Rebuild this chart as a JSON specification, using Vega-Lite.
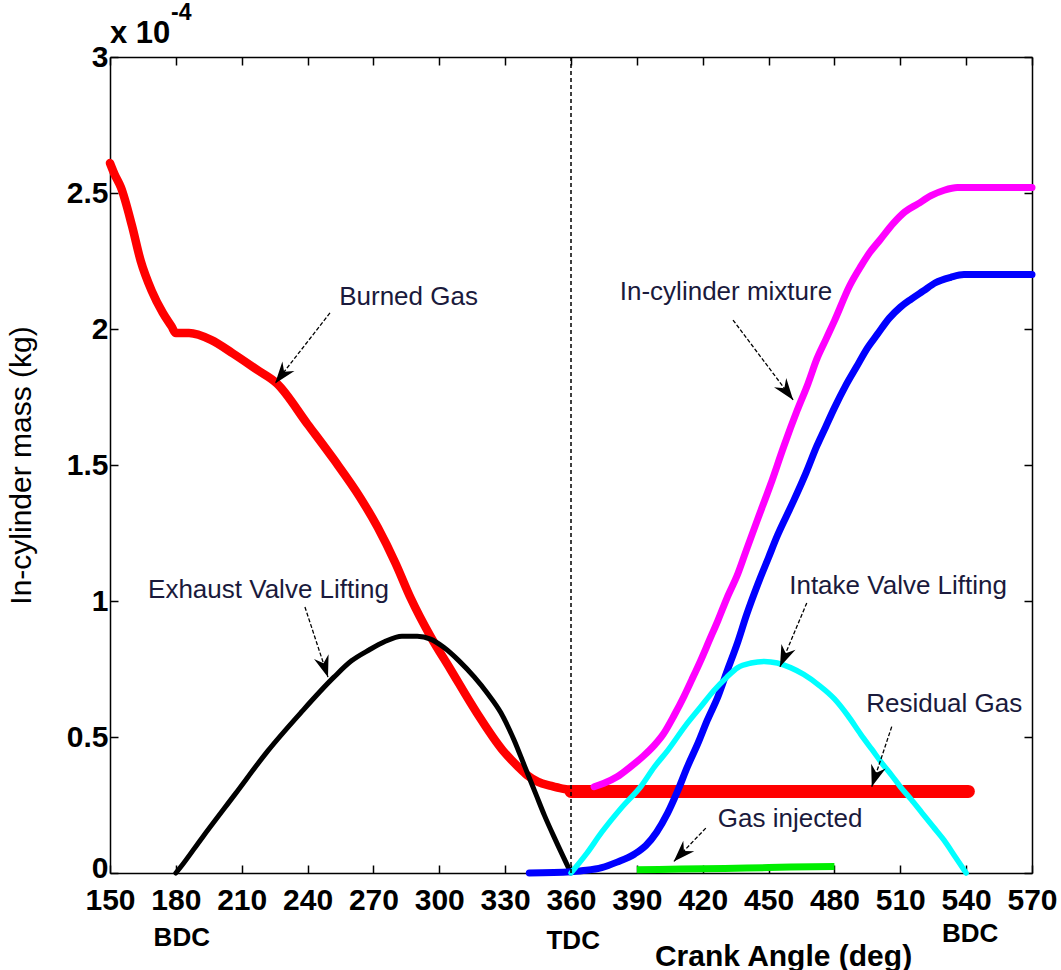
{
  "$schema": "https://vega.github.io/schema/vega-lite/v6.json",
  "width": 922,
  "height": 816,
  "autosize": {"type": "none"},
  "padding": {"left": 110, "top": 57, "right": 29, "bottom": 97},
  "background": "white",
  "config": {
    "view": {"stroke": null},
    "axis": {"grid": false, "domainColor": "black", "tickColor": "black", "domainWidth": 1.5, "tickWidth": 1.5, "tickSize": -8, "labelColor": "black", "titleColor": "black"}
  },
  "resolve": {"axis": {"x": "independent", "y": "independent"}},
  "datasets": {
    "curves": [
      {"series": "Burned Gas", "angle": 150, "mass": 2.61},
      {"series": "Burned Gas", "angle": 152, "mass": 2.57},
      {"series": "Burned Gas", "angle": 155, "mass": 2.52},
      {"series": "Burned Gas", "angle": 160, "mass": 2.38},
      {"series": "Burned Gas", "angle": 164, "mass": 2.25},
      {"series": "Burned Gas", "angle": 169, "mass": 2.14},
      {"series": "Burned Gas", "angle": 174, "mass": 2.06},
      {"series": "Burned Gas", "angle": 178, "mass": 2.01},
      {"series": "Burned Gas", "angle": 180, "mass": 1.985},
      {"series": "Burned Gas", "angle": 186, "mass": 1.985},
      {"series": "Burned Gas", "angle": 196, "mass": 1.96},
      {"series": "Burned Gas", "angle": 206, "mass": 1.91},
      {"series": "Burned Gas", "angle": 217, "mass": 1.85},
      {"series": "Burned Gas", "angle": 226, "mass": 1.8},
      {"series": "Burned Gas", "angle": 240, "mass": 1.65},
      {"series": "Burned Gas", "angle": 252, "mass": 1.52},
      {"series": "Burned Gas", "angle": 264, "mass": 1.38},
      {"series": "Burned Gas", "angle": 272, "mass": 1.27},
      {"series": "Burned Gas", "angle": 280, "mass": 1.14},
      {"series": "Burned Gas", "angle": 287, "mass": 1.01},
      {"series": "Burned Gas", "angle": 296, "mass": 0.87},
      {"series": "Burned Gas", "angle": 305, "mass": 0.75},
      {"series": "Burned Gas", "angle": 317, "mass": 0.59},
      {"series": "Burned Gas", "angle": 329, "mass": 0.45},
      {"series": "Burned Gas", "angle": 336, "mass": 0.39},
      {"series": "Burned Gas", "angle": 340, "mass": 0.36},
      {"series": "Burned Gas", "angle": 345, "mass": 0.335},
      {"series": "Burned Gas", "angle": 351, "mass": 0.32},
      {"series": "Burned Gas", "angle": 356, "mass": 0.31},
      {"series": "Burned Gas", "angle": 360, "mass": 0.305},
      {"series": "Residual Gas", "angle": 360, "mass": 0.3},
      {"series": "Residual Gas", "angle": 541, "mass": 0.3},
      {"series": "Exhaust Valve Lifting", "angle": 180, "mass": 0},
      {"series": "Exhaust Valve Lifting", "angle": 182, "mass": 0.02},
      {"series": "Exhaust Valve Lifting", "angle": 192, "mass": 0.13},
      {"series": "Exhaust Valve Lifting", "angle": 207, "mass": 0.29},
      {"series": "Exhaust Valve Lifting", "angle": 222, "mass": 0.45},
      {"series": "Exhaust Valve Lifting", "angle": 237, "mass": 0.59},
      {"series": "Exhaust Valve Lifting", "angle": 252, "mass": 0.72},
      {"series": "Exhaust Valve Lifting", "angle": 260, "mass": 0.78},
      {"series": "Exhaust Valve Lifting", "angle": 268, "mass": 0.82},
      {"series": "Exhaust Valve Lifting", "angle": 275, "mass": 0.85},
      {"series": "Exhaust Valve Lifting", "angle": 283, "mass": 0.87},
      {"series": "Exhaust Valve Lifting", "angle": 290, "mass": 0.87},
      {"series": "Exhaust Valve Lifting", "angle": 296, "mass": 0.86},
      {"series": "Exhaust Valve Lifting", "angle": 302, "mass": 0.83},
      {"series": "Exhaust Valve Lifting", "angle": 309, "mass": 0.78},
      {"series": "Exhaust Valve Lifting", "angle": 316, "mass": 0.72},
      {"series": "Exhaust Valve Lifting", "angle": 322, "mass": 0.66},
      {"series": "Exhaust Valve Lifting", "angle": 328, "mass": 0.59},
      {"series": "Exhaust Valve Lifting", "angle": 334, "mass": 0.49},
      {"series": "Exhaust Valve Lifting", "angle": 339, "mass": 0.39},
      {"series": "Exhaust Valve Lifting", "angle": 344, "mass": 0.29},
      {"series": "Exhaust Valve Lifting", "angle": 348, "mass": 0.21},
      {"series": "Exhaust Valve Lifting", "angle": 353, "mass": 0.12},
      {"series": "Exhaust Valve Lifting", "angle": 360, "mass": 0},
      {"series": "In-cylinder mixture", "angle": 370.5, "mass": 0.317},
      {"series": "In-cylinder mixture", "angle": 375, "mass": 0.33},
      {"series": "In-cylinder mixture", "angle": 381, "mass": 0.354},
      {"series": "In-cylinder mixture", "angle": 387, "mass": 0.39},
      {"series": "In-cylinder mixture", "angle": 393, "mass": 0.43},
      {"series": "In-cylinder mixture", "angle": 398, "mass": 0.47},
      {"series": "In-cylinder mixture", "angle": 402, "mass": 0.51},
      {"series": "In-cylinder mixture", "angle": 407, "mass": 0.58},
      {"series": "In-cylinder mixture", "angle": 411.5, "mass": 0.65},
      {"series": "In-cylinder mixture", "angle": 415, "mass": 0.71},
      {"series": "In-cylinder mixture", "angle": 419, "mass": 0.78},
      {"series": "In-cylinder mixture", "angle": 423, "mass": 0.855},
      {"series": "In-cylinder mixture", "angle": 427, "mass": 0.93},
      {"series": "In-cylinder mixture", "angle": 431, "mass": 1.01},
      {"series": "In-cylinder mixture", "angle": 436, "mass": 1.1},
      {"series": "In-cylinder mixture", "angle": 440, "mass": 1.19},
      {"series": "In-cylinder mixture", "angle": 445, "mass": 1.3},
      {"series": "In-cylinder mixture", "angle": 451, "mass": 1.43},
      {"series": "In-cylinder mixture", "angle": 457, "mass": 1.57},
      {"series": "In-cylinder mixture", "angle": 463, "mass": 1.7},
      {"series": "In-cylinder mixture", "angle": 468, "mass": 1.8},
      {"series": "In-cylinder mixture", "angle": 472, "mass": 1.89},
      {"series": "In-cylinder mixture", "angle": 476, "mass": 1.96},
      {"series": "In-cylinder mixture", "angle": 480, "mass": 2.03},
      {"series": "In-cylinder mixture", "angle": 487, "mass": 2.16},
      {"series": "In-cylinder mixture", "angle": 492, "mass": 2.23},
      {"series": "In-cylinder mixture", "angle": 496, "mass": 2.28},
      {"series": "In-cylinder mixture", "angle": 501, "mass": 2.33},
      {"series": "In-cylinder mixture", "angle": 507, "mass": 2.39},
      {"series": "In-cylinder mixture", "angle": 512, "mass": 2.43},
      {"series": "In-cylinder mixture", "angle": 518, "mass": 2.46},
      {"series": "In-cylinder mixture", "angle": 524, "mass": 2.49},
      {"series": "In-cylinder mixture", "angle": 530, "mass": 2.51},
      {"series": "In-cylinder mixture", "angle": 536, "mass": 2.52},
      {"series": "In-cylinder mixture", "angle": 570, "mass": 2.52},
      {"series": "Fresh charge", "angle": 341, "mass": 0},
      {"series": "Fresh charge", "angle": 360, "mass": 0.005},
      {"series": "Fresh charge", "angle": 367, "mass": 0.01},
      {"series": "Fresh charge", "angle": 374, "mass": 0.02},
      {"series": "Fresh charge", "angle": 381, "mass": 0.04},
      {"series": "Fresh charge", "angle": 389, "mass": 0.07},
      {"series": "Fresh charge", "angle": 394, "mass": 0.1},
      {"series": "Fresh charge", "angle": 399, "mass": 0.15},
      {"series": "Fresh charge", "angle": 404, "mass": 0.22},
      {"series": "Fresh charge", "angle": 408.5, "mass": 0.3},
      {"series": "Fresh charge", "angle": 413, "mass": 0.39},
      {"series": "Fresh charge", "angle": 418, "mass": 0.48},
      {"series": "Fresh charge", "angle": 422, "mass": 0.56},
      {"series": "Fresh charge", "angle": 427, "mass": 0.65},
      {"series": "Fresh charge", "angle": 431, "mass": 0.74},
      {"series": "Fresh charge", "angle": 436, "mass": 0.85},
      {"series": "Fresh charge", "angle": 440, "mass": 0.95},
      {"series": "Fresh charge", "angle": 445, "mass": 1.06},
      {"series": "Fresh charge", "angle": 450, "mass": 1.16},
      {"series": "Fresh charge", "angle": 454, "mass": 1.24},
      {"series": "Fresh charge", "angle": 458, "mass": 1.31},
      {"series": "Fresh charge", "angle": 461.5, "mass": 1.37},
      {"series": "Fresh charge", "angle": 467, "mass": 1.47},
      {"series": "Fresh charge", "angle": 472, "mass": 1.57},
      {"series": "Fresh charge", "angle": 476, "mass": 1.64},
      {"series": "Fresh charge", "angle": 480, "mass": 1.71},
      {"series": "Fresh charge", "angle": 485, "mass": 1.79},
      {"series": "Fresh charge", "angle": 490, "mass": 1.86},
      {"series": "Fresh charge", "angle": 495, "mass": 1.93},
      {"series": "Fresh charge", "angle": 499.5, "mass": 1.98},
      {"series": "Fresh charge", "angle": 505, "mass": 2.04},
      {"series": "Fresh charge", "angle": 510, "mass": 2.08},
      {"series": "Fresh charge", "angle": 515, "mass": 2.11},
      {"series": "Fresh charge", "angle": 520.5, "mass": 2.14},
      {"series": "Fresh charge", "angle": 526, "mass": 2.17},
      {"series": "Fresh charge", "angle": 533, "mass": 2.19},
      {"series": "Fresh charge", "angle": 539, "mass": 2.2},
      {"series": "Fresh charge", "angle": 570, "mass": 2.2},
      {"series": "Intake Valve Lifting", "angle": 360, "mass": 0},
      {"series": "Intake Valve Lifting", "angle": 367, "mass": 0.07},
      {"series": "Intake Valve Lifting", "angle": 374, "mass": 0.15},
      {"series": "Intake Valve Lifting", "angle": 383, "mass": 0.24},
      {"series": "Intake Valve Lifting", "angle": 392, "mass": 0.32},
      {"series": "Intake Valve Lifting", "angle": 398, "mass": 0.39},
      {"series": "Intake Valve Lifting", "angle": 404, "mass": 0.45},
      {"series": "Intake Valve Lifting", "angle": 412, "mass": 0.54},
      {"series": "Intake Valve Lifting", "angle": 419, "mass": 0.61},
      {"series": "Intake Valve Lifting", "angle": 425, "mass": 0.67},
      {"series": "Intake Valve Lifting", "angle": 431, "mass": 0.72},
      {"series": "Intake Valve Lifting", "angle": 436, "mass": 0.755},
      {"series": "Intake Valve Lifting", "angle": 442, "mass": 0.772},
      {"series": "Intake Valve Lifting", "angle": 448, "mass": 0.778},
      {"series": "Intake Valve Lifting", "angle": 454, "mass": 0.772},
      {"series": "Intake Valve Lifting", "angle": 460, "mass": 0.755},
      {"series": "Intake Valve Lifting", "angle": 466, "mass": 0.73},
      {"series": "Intake Valve Lifting", "angle": 473, "mass": 0.69},
      {"series": "Intake Valve Lifting", "angle": 480, "mass": 0.64},
      {"series": "Intake Valve Lifting", "angle": 486, "mass": 0.58},
      {"series": "Intake Valve Lifting", "angle": 492, "mass": 0.51},
      {"series": "Intake Valve Lifting", "angle": 497, "mass": 0.455},
      {"series": "Intake Valve Lifting", "angle": 502, "mass": 0.4},
      {"series": "Intake Valve Lifting", "angle": 506, "mass": 0.36},
      {"series": "Intake Valve Lifting", "angle": 510, "mass": 0.317},
      {"series": "Intake Valve Lifting", "angle": 515, "mass": 0.27},
      {"series": "Intake Valve Lifting", "angle": 520, "mass": 0.22},
      {"series": "Intake Valve Lifting", "angle": 525, "mass": 0.17},
      {"series": "Intake Valve Lifting", "angle": 530, "mass": 0.12},
      {"series": "Intake Valve Lifting", "angle": 535, "mass": 0.06},
      {"series": "Intake Valve Lifting", "angle": 540, "mass": 0},
      {"series": "Gas injected", "angle": 390, "mass": 0.012},
      {"series": "Gas injected", "angle": 400, "mass": 0.013},
      {"series": "Gas injected", "angle": 410, "mass": 0.015},
      {"series": "Gas injected", "angle": 420, "mass": 0.016},
      {"series": "Gas injected", "angle": 430, "mass": 0.017},
      {"series": "Gas injected", "angle": 440, "mass": 0.018},
      {"series": "Gas injected", "angle": 450, "mass": 0.02},
      {"series": "Gas injected", "angle": 460, "mass": 0.022},
      {"series": "Gas injected", "angle": 470, "mass": 0.023},
      {"series": "Gas injected", "angle": 480, "mass": 0.024}
    ],
    "arrows": [
      {"label": "Burned Gas", "from_angle": 250.2, "from_mass": 2.059, "to_angle": 225.2, "to_mass": 1.8, "heading": 218},
      {"label": "Exhaust Valve Lifting", "from_angle": 238.8, "from_mass": 0.978, "to_angle": 249.3, "to_mass": 0.72, "heading": 162},
      {"label": "In-cylinder mixture", "from_angle": 433.8, "from_mass": 2.033, "to_angle": 461.2, "to_mass": 1.739, "heading": 143},
      {"label": "Intake Valve Lifting", "from_angle": 467.4, "from_mass": 0.993, "to_angle": 455.2, "to_mass": 0.758, "heading": 203},
      {"label": "Residual Gas", "from_angle": 506.1, "from_mass": 0.538, "to_angle": 497, "to_mass": 0.317, "heading": 198},
      {"label": "Gas injected", "from_angle": 421.4, "from_mass": 0.165, "to_angle": 406.8, "to_mass": 0.042, "heading": 224}
    ],
    "labels": [
      {"label": "Burned Gas", "angle": 286, "mass": 2.118},
      {"label": "Exhaust Valve Lifting", "angle": 222.2, "mass": 1.04},
      {"label": "In-cylinder mixture", "angle": 430.6, "mass": 2.137},
      {"label": "Intake Valve Lifting", "angle": 509, "mass": 1.055},
      {"label": "Residual Gas", "angle": 530, "mass": 0.621},
      {"label": "Gas injected", "angle": 459.8, "mass": 0.197}
    ],
    "positions": [
      {"label": "BDC", "angle": 182.7, "mass": -0.239},
      {"label": "TDC", "angle": 361, "mass": -0.25},
      {"label": "BDC", "angle": 541.8, "mass": -0.224}
    ]
  },
  "layer": [
    {
      "data": {"name": "curves"},
      "transform": [{"filter": "datum.series === 'Burned Gas'"}],
      "mark": {"type": "line", "color": "#ff0000", "strokeWidth": 8.5, "strokeCap": "round", "strokeJoin": "round", "interpolate": "monotone"},
      "encoding": {
        "x": {"field": "angle", "type": "quantitative", "scale": {"domain": [150, 570], "nice": false, "zero": false},
              "axis": {"orient": "top", "values": [150,180,210,240,270,300,330,360,390,420,450,480,510,540,570], "labels": false, "title": null}},
        "y": {"field": "mass", "type": "quantitative", "scale": {"domain": [0, 3], "nice": false},
              "axis": {"orient": "right", "values": [0,0.5,1,1.5,2,2.5,3], "labels": false, "title": null}}
      }
    },
    {
      "data": {"name": "curves"},
      "transform": [{"filter": "datum.series === 'Residual Gas'"}],
      "mark": {"type": "line", "color": "#ff0000", "strokeWidth": 13, "strokeCap": "round"},
      "encoding": {
        "x": {"field": "angle", "type": "quantitative",
              "axis": {"orient": "bottom", "values": [150,180,210,240,270,300,330,360,390,420,450,480,510,540,570],
                       "labelFont": "Liberation Sans", "labelFontWeight": "bold", "labelFontSize": 30, "labelPadding": 20,
                       "labelFlush": false, "labelOverlap": false,
                       "title": "Crank Angle (deg)", "titleFont": "Liberation Sans", "titleFontWeight": "bold", "titleFontSize": 30,
                       "titleX": 673, "titleY": 92, "titleAlign": "center", "titleBaseline": "alphabetic"}},
        "y": {"field": "mass", "type": "quantitative",
              "axis": {"orient": "left", "values": [0,0.5,1,1.5,2,2.5,3], "labelExpr": "datum.value + ''",
                       "labelFont": "Liberation Sans", "labelFontWeight": "bold", "labelFontSize": 30, "labelPadding": 10,
                       "labelOffset": {"condition": {"test": "datum.value === 0", "value": -5}, "value": 0},
                       "title": "In-cylinder mass (kg)", "titleFont": "Liberation Sans", "titleFontWeight": "normal", "titleFontSize": 30,
                       "titleX": -89, "titleY": 408, "titleAngle": -90, "titleAlign": "center", "titleBaseline": "middle"}}
      }
    },
    {
      "data": {"name": "curves"},
      "transform": [{"filter": "datum.series === 'Exhaust Valve Lifting'"}],
      "mark": {"type": "line", "color": "#000000", "strokeWidth": 5, "strokeCap": "round", "strokeJoin": "round", "interpolate": "monotone"},
      "encoding": {"x": {"field": "angle", "type": "quantitative", "axis": null}, "y": {"field": "mass", "type": "quantitative", "axis": null}}
    },
    {
      "data": {"name": "curves"},
      "transform": [{"filter": "datum.series === 'In-cylinder mixture'"}],
      "mark": {"type": "line", "color": "#ff00ff", "strokeWidth": 7, "strokeCap": "round", "strokeJoin": "round", "interpolate": "monotone"},
      "encoding": {"x": {"field": "angle", "type": "quantitative", "axis": null}, "y": {"field": "mass", "type": "quantitative", "axis": null}}
    },
    {
      "data": {"name": "curves"},
      "transform": [{"filter": "datum.series === 'Fresh charge'"}],
      "mark": {"type": "line", "color": "#0000ff", "strokeWidth": 7, "strokeCap": "round", "strokeJoin": "round", "interpolate": "monotone"},
      "encoding": {"x": {"field": "angle", "type": "quantitative", "axis": null}, "y": {"field": "mass", "type": "quantitative", "axis": null}}
    },
    {
      "data": {"name": "curves"},
      "transform": [{"filter": "datum.series === 'Intake Valve Lifting'"}],
      "mark": {"type": "line", "color": "#00ffff", "strokeWidth": 5.5, "strokeCap": "round", "strokeJoin": "round", "interpolate": "monotone"},
      "encoding": {"x": {"field": "angle", "type": "quantitative", "axis": null}, "y": {"field": "mass", "type": "quantitative", "axis": null}}
    },
    {
      "data": {"name": "curves"},
      "transform": [{"filter": "datum.series === 'Gas injected'"}],
      "mark": {"type": "line", "color": "#00ee00", "strokeWidth": 7, "strokeCap": "butt"},
      "encoding": {"x": {"field": "angle", "type": "quantitative", "axis": null}, "y": {"field": "mass", "type": "quantitative", "axis": null}}
    },
    {
      "data": {"values": [{"angle": 360}]},
      "mark": {"type": "rule", "color": "black", "strokeWidth": 1.5, "strokeDash": [4, 3]},
      "encoding": {"x": {"field": "angle", "type": "quantitative", "axis": null}}
    },
    {
      "data": {"name": "arrows"},
      "mark": {"type": "rule", "color": "black", "strokeWidth": 1.3, "strokeDash": [4, 2]},
      "encoding": {
        "x": {"field": "from_angle", "type": "quantitative", "axis": null},
        "y": {"field": "from_mass", "type": "quantitative", "axis": null},
        "x2": {"field": "to_angle"},
        "y2": {"field": "to_mass"}
      }
    },
    {
      "data": {"name": "arrows"},
      "mark": {"type": "point", "shape": "M0,0L0.6,1.7L0,1.15L-0.6,1.7Z", "filled": true, "color": "black", "opacity": 1, "size": 650},
      "encoding": {
        "x": {"field": "to_angle", "type": "quantitative", "axis": null},
        "y": {"field": "to_mass", "type": "quantitative", "axis": null},
        "angle": {"field": "heading", "type": "quantitative", "scale": null}
      }
    },
    {
      "data": {"name": "labels"},
      "mark": {"type": "text", "font": "Liberation Sans", "fontSize": 26, "color": "#1a1a3c", "align": "center", "baseline": "middle"},
      "encoding": {
        "x": {"field": "angle", "type": "quantitative", "axis": null},
        "y": {"field": "mass", "type": "quantitative", "axis": null},
        "text": {"field": "label"}
      }
    },
    {
      "data": {"name": "positions"},
      "mark": {"type": "text", "font": "Liberation Sans", "fontSize": 26, "fontWeight": "bold", "color": "black", "align": "center", "baseline": "middle"},
      "encoding": {
        "x": {"field": "angle", "type": "quantitative", "axis": null},
        "y": {"field": "mass", "type": "quantitative", "axis": null},
        "text": {"field": "label"}
      }
    },
    {
      "data": {"values": [{"label": "x 10", "angle": 150, "mass": 3.051}]},
      "mark": {"type": "text", "font": "Liberation Sans", "fontSize": 31, "fontWeight": "bold", "color": "black", "align": "left", "baseline": "alphabetic"},
      "encoding": {
        "x": {"field": "angle", "type": "quantitative", "axis": null},
        "y": {"field": "mass", "type": "quantitative", "axis": null},
        "text": {"field": "label"}
      }
    },
    {
      "data": {"values": [{"label": "-4", "angle": 177.8, "mass": 3.136}]},
      "mark": {"type": "text", "font": "Liberation Sans", "fontSize": 23, "fontWeight": "bold", "color": "black", "align": "left", "baseline": "alphabetic"},
      "encoding": {
        "x": {"field": "angle", "type": "quantitative", "axis": null},
        "y": {"field": "mass", "type": "quantitative", "axis": null},
        "text": {"field": "label"}
      }
    }
  ]
}
